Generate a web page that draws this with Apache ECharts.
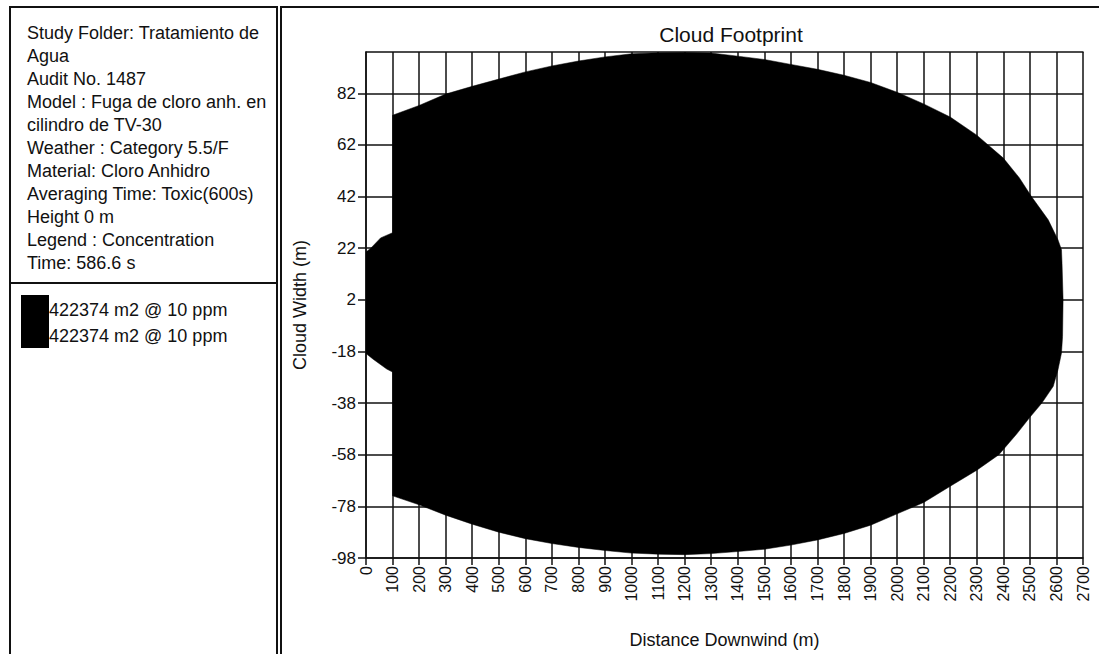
<!DOCTYPE html>
<html>
<head>
<meta charset="utf-8">
<script src="https://cdn.jsdelivr.net/npm/echarts@6/dist/echarts.min.js"></script>
<style>
html,body{margin:0;padding:0;background:#fff;}
#chart{width:1099px;height:654px;}
</style>
</head>
<body>
<div id="chart"></div>
<script>
// ---- data ----
const chartTitle = 'Cloud Footprint';
const xAxisName = 'Distance Downwind (m)';
const yAxisName = 'Cloud Width (m)';
const xMin = 0, xMax = 2700, xStep = 100;
const yTicks = [-98, -78, -58, -38, -18, 2, 22, 42, 62, 82];
const yMin = -98, yMax = 98;

const infoLines = [
  'Study Folder: Tratamiento de',
  'Agua',
  'Audit No. 1487',
  'Model : Fuga de cloro anh. en',
  'cilindro de TV-30',
  'Weather : Category 5.5/F',
  'Material: Cloro Anhidro',
  'Averaging Time: Toxic(600s)',
  'Height 0 m',
  'Legend : Concentration',
  'Time: 586.6 s'
];
const legendEntries = ['422374 m2 @ 10 ppm', '422374 m2 @ 10 ppm'];

// cloud outline (upper edge, left to right)
const upperX = [0, 18, 55, 100, 100, 200, 300, 400, 500, 600, 700, 800, 900, 1000, 1100, 1200, 1300, 1400, 1500, 1600, 1700, 1800, 1900, 2000, 2100, 2200, 2300, 2400, 2460, 2506, 2569, 2606, 2619, 2621, 2625];
const upperY = [20.5, 22, 26, 28, 73.5, 77.3, 81.7, 84.7, 87.5, 90.3, 92.6, 94.5, 96.1, 97.3, 97.7, 97.8, 97.6, 96.4, 95.1, 93.2, 91.3, 89, 86.2, 82.4, 77.9, 72.8, 65.8, 56.9, 49.3, 42, 33, 25.2, 21.4, 16.2, 2];
// cloud outline (lower edge, left to right)
const lowerX = [0, 27, 78, 100, 100, 200, 300, 400, 500, 600, 700, 800, 900, 1000, 1100, 1200, 1300, 1400, 1500, 1600, 1700, 1800, 1900, 2000, 2100, 2200, 2300, 2383, 2450, 2500, 2545, 2588, 2606, 2619, 2623, 2625];
const lowerY = [-18.8, -21, -24.8, -26, -73.9, -77.4, -81.4, -84.9, -88, -90.5, -92.4, -93.9, -95.1, -96.1, -96.5, -96.7, -96.3, -95.5, -94.6, -93, -91, -88.5, -85.3, -80.9, -76.5, -70.2, -64, -58, -50, -43.5, -38, -31.5, -25, -18.6, -12.2, 2];

// ---- build ----
const polyPts = [];
for (let i = 0; i < upperX.length; i++) polyPts.push([upperX[i], upperY[i]]);
for (let i = lowerX.length - 2; i >= 0; i--) polyPts.push([lowerX[i], lowerY[i]]);

const FONT = "'Liberation Sans', Arial, sans-serif";
const INK = '#111';

const chart = echarts.init(document.getElementById('chart'), null, {renderer: 'svg'});

const lineH = 23;
const graphics = [
  {type: 'rect', shape: {x: 10, y: 7, width: 267, height: 700}, style: {fill: 'none', stroke: INK, lineWidth: 2}, silent: true},
  {type: 'rect', shape: {x: 281, y: 7, width: 840, height: 700}, style: {fill: 'none', stroke: INK, lineWidth: 2}, silent: true},
  {type: 'line', shape: {x1: 10, y1: 283, x2: 277, y2: 283}, style: {stroke: INK, lineWidth: 2}, silent: true},
  {type: 'text', left: 27, top: 33 - lineH / 2, style: {text: infoLines.join('\n'), font: '18px ' + FONT, fill: INK, lineHeight: lineH}},
  {type: 'rect', shape: {x: 21, y: 295, width: 28, height: 53}, style: {fill: '#000'}, silent: true},
  {type: 'text', left: 49, top: 310 - 13, style: {text: legendEntries.join('\n'), font: '18px ' + FONT, fill: INK, lineHeight: 26}}
];

const option = {
  backgroundColor: '#fff',
  animation: false,
  title: {
    text: chartTitle, left: 726, top: 19, textAlign: 'center',
    textStyle: {fontFamily: FONT, fontSize: 21, fontWeight: 'normal', color: INK}
  },
  grid: {left: 366, right: 16, top: 52, bottom: 89, containLabel: false},
  xAxis: [{
    type: 'value', min: xMin, max: xMax, interval: xStep,
    name: xAxisName, nameLocation: 'middle', nameGap: 73,
    nameTextStyle: {fontFamily: FONT, fontSize: 18, color: INK},
    axisLine: {show: true, onZero: false, lineStyle: {color: INK, width: 1.5}},
    axisTick: {show: true, length: 7, lineStyle: {color: INK, width: 1.5}},
    axisLabel: {rotate: 90, margin: 8, fontFamily: FONT, fontSize: 16, color: INK,
      formatter: function (v) { return String(v); }},
    splitLine: {show: true, lineStyle: {color: INK, width: 1.5}}
  }, {
    type: 'value', min: xMin, max: xMax, position: 'top',
    axisLine: {show: true, onZero: false, lineStyle: {color: INK, width: 1.5}},
    axisTick: {show: false}, axisLabel: {show: false}, splitLine: {show: false}
  }],
  yAxis: [{
    type: 'value', min: yMin, max: yMax, interval: 20,
    name: yAxisName, nameLocation: 'middle', nameGap: 57, nameRotate: 90,
    nameTextStyle: {fontFamily: FONT, fontSize: 18, color: INK},
    axisLine: {show: true, onZero: false, lineStyle: {color: INK, width: 1.5}},
    axisTick: {show: true, length: 8, customValues: yTicks, lineStyle: {color: INK, width: 1.5}},
    axisLabel: {margin: 10, customValues: yTicks, fontFamily: FONT, fontSize: 17, color: INK},
    splitLine: {show: true, lineStyle: {color: INK, width: 1.5}}
  }],
  series: [{
    type: 'custom',
    coordinateSystem: 'cartesian2d',
    data: [[xMin, yMin]],
    clip: true,
    silent: true,
    renderItem: function (params, api) {
      const pts = polyPts.map(p => api.coord(p));
      return {type: 'polygon', shape: {points: pts}, style: {fill: '#000', stroke: '#000', lineWidth: 0.5}};
    }
  }],
  graphic: graphics
};
chart.setOption(option);
</script>
</body>
</html>
